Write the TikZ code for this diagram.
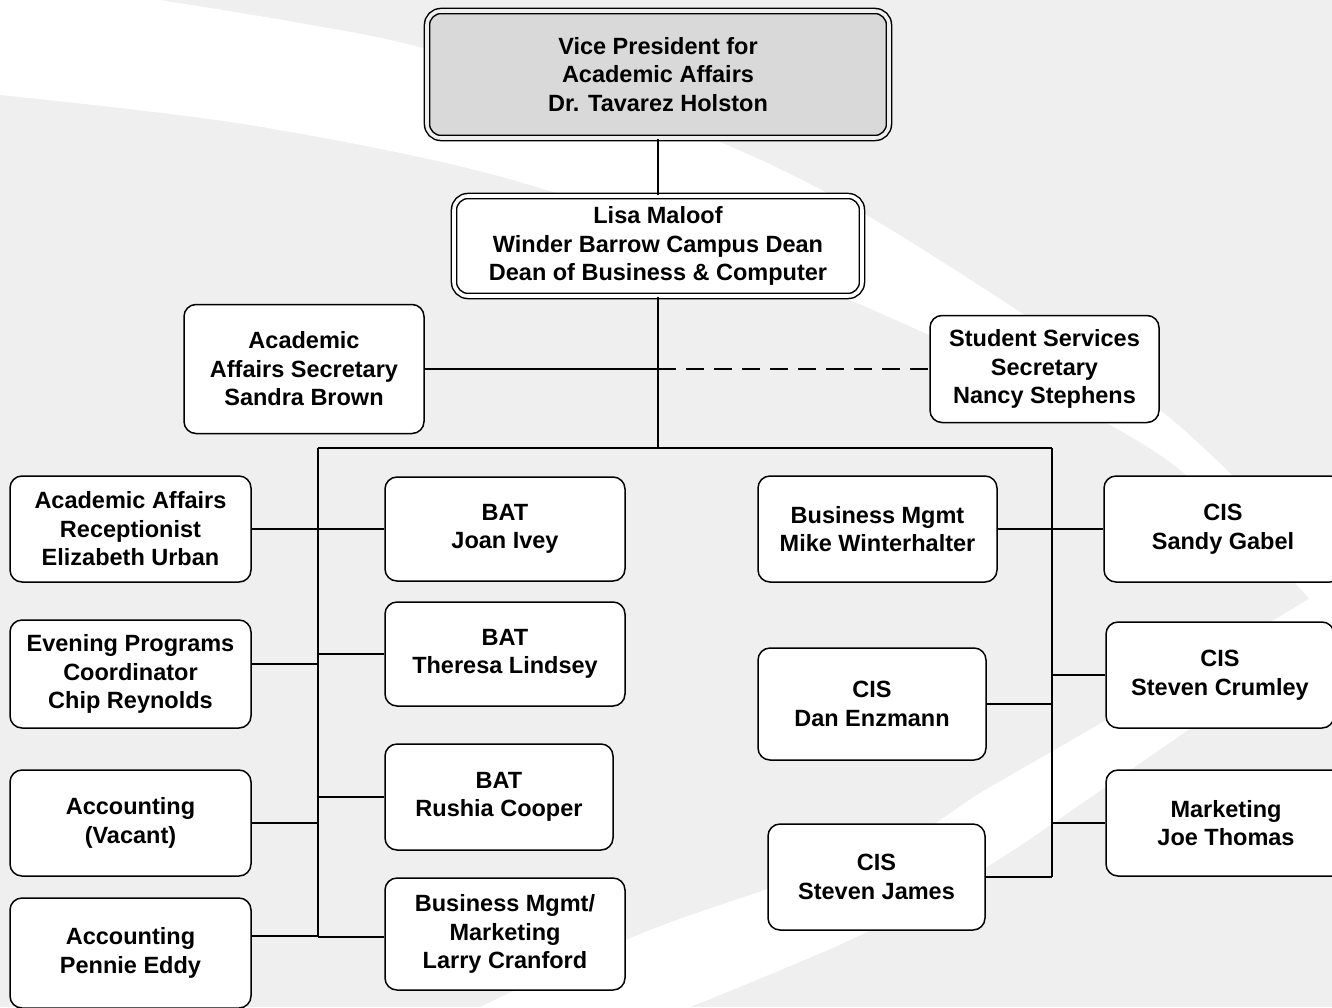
\documentclass[tikz,border=0pt]{standalone}
\usepackage{fontspec}
\setmainfont{Liberation Sans}
\usepackage{xcolor}
\usepackage{tikz}
\usetikzlibrary{shapes,arrows,positioning,calc}
\definecolor{bggray}{HTML}{EFEFEF}
\definecolor{vpgray}{HTML}{D9D9D9}

\tikzset{
  orgbox/.style={draw, line width=1.5pt, rounded corners=12pt, fill=white,
    align=center, inner sep=0pt,
    font=\bfseries\fontsize{23.5}{28.5}\selectfont},
  dblbox/.style={orgbox, double distance=3.6pt, rounded corners=14pt},
  link/.style={line width=1.5pt}
}

\begin{document}
\begin{tikzpicture}[x=1pt,y=-1pt]
    % Background with white swooshes
    \fill[bggray] (0,0) rectangle (1332,1007);
    \useasboundingbox (0,0) rectangle (1332,1007);
    \fill[white] (0,0) -- plot[smooth] coordinates {(160,0) (300,23) (423,48) (660,118) (863,213) (1160,410) (1332,580)}
        -- plot[smooth] coordinates {(1332,625) (1160,455) (850,300) (520,182) (250,125) (0,95)} -- cycle;
    \fill[white] plot[smooth] coordinates {(480,1007) (650,930) (893,845) (985,790) (1120,712) (1332,585)}
        -- plot[smooth] coordinates {(1332,630) (1120,777) (985,868) (850,940) (690,1007)} -- cycle;

    % Top of the chart
    \node[dblbox, fill=vpgray, double=bggray, minimum width=462pt, minimum height=127pt] (vp) at (658,74.5)
        {Vice President for\\Academic Affairs\\Dr. Tavarez Holston};
    \node[dblbox, double=white, minimum width=408pt, minimum height=100pt] (dean) at (658,246)
        {Lisa Maloof\\Winder Barrow Campus Dean\\Dean of Business \& Computer};
    \node[orgbox, minimum width=240pt, minimum height=129pt] (sec) at (304,369)
        {Academic\\Affairs Secretary\\Sandra Brown};
    \node[orgbox, minimum width=229pt, minimum height=107pt] (ssec) at (1044.5,369)
        {Student Services\\Secretary\\Nancy Stephens};

    % Left column
    \node[orgbox, minimum width=241pt, minimum height=106pt] (recep) at (130.5,529)
        {Academic Affairs\\Receptionist\\Elizabeth Urban};
    \node[orgbox, minimum width=241pt, minimum height=108pt] (even) at (130.5,674)
        {Evening Programs\\Coordinator\\Chip Reynolds};
    \node[orgbox, minimum width=241pt, minimum height=106pt] (vac) at (130.5,823)
        {Accounting\\(Vacant)};
    \node[orgbox, minimum width=241pt, minimum height=110pt] (eddy) at (130.5,953)
        {Accounting\\Pennie Eddy};

    % BAT column
    \node[orgbox, minimum width=240pt, minimum height=104pt] (joan) at (505,529) {BAT\\Joan Ivey};
    \node[orgbox, minimum width=240pt, minimum height=104pt] (theresa) at (505,654) {BAT\\Theresa Lindsey};
    \node[orgbox, minimum width=228pt, minimum height=106pt] (rushia) at (499,797) {BAT\\Rushia Cooper};
    \node[orgbox, minimum width=240pt, minimum height=112pt] (larry) at (505,934)
        {Business Mgmt/\\Marketing\\Larry Cranford};

    % Right side
    \node[orgbox, minimum width=239pt, minimum height=106pt] (mike) at (877.5,529)
        {Business Mgmt\\Mike Winterhalter};
    \node[orgbox, minimum width=228pt, minimum height=112pt] (dan) at (872,704) {CIS\\Dan Enzmann};
    \node[orgbox, minimum width=217pt, minimum height=106pt] (james) at (876.5,877) {CIS\\Steven James};
    \node[orgbox, minimum width=238pt, minimum height=106pt] (sandy) at (1223,529) {CIS\\Sandy Gabel};
    \node[orgbox, minimum width=228pt, minimum height=106pt] (crumley) at (1220,675) {CIS\\Steven Crumley};
    \node[orgbox, minimum width=240pt, minimum height=106pt] (joe) at (1226,823) {Marketing\\Joe Thomas};

    % Connectors
    \coordinate (split) at (658,448);
    \coordinate (lbus) at (318,448);
    \coordinate (rbus) at (1052,448);
    \coordinate (lend) at (318,936);
    \coordinate (rend) at (1052,877);
    \coordinate (evenc) at ([yshift=10pt]even.east);
    \coordinate (eddyc) at ([yshift=17pt]eddy.east);
    \coordinate (larryc) at ([yshift=-3pt]larry.west);

    \draw[link] (vp) -- (dean);
    \draw[link] (dean) -- (split);
    \draw[link] (sec.east) -- (sec.east -| dean.south);
    \draw[link, dash pattern=on 18pt off 10pt] (sec.east -| dean.south) -- (ssec.west);
    \draw[link] (lbus) -- (rbus);
    \draw[link] (lbus) -- (lend);
    \draw[link] (rbus) -- (rend);

    \draw[link] (recep) -- (joan);
    \draw[link] (evenc) -- (evenc -| lbus);
    \draw[link] (vac.east) -- (vac.east -| lbus);
    \draw[link] (eddyc) -- (lend);
    \foreach \n in {theresa, rushia}
        \draw[link] (\n.west) -- (\n.west -| lbus);
    \draw[link] (larryc) -- (larryc -| lbus);

    \draw[link] (mike) -- (sandy);
    \draw[link] (dan.east) -- (dan.east -| rbus);
    \draw[link] (james.east) -- (rend);
    \foreach \n in {crumley, joe}
        \draw[link] (\n.west) -- (\n.west -| rbus);
\end{tikzpicture}
\end{document}
